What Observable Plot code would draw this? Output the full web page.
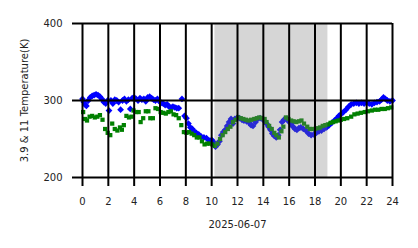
<!DOCTYPE html>
<html>
<head>
<meta charset="utf-8">
<script src="https://cdn.jsdelivr.net/npm/d3@7"></script>
<script src="https://cdn.jsdelivr.net/npm/@observablehq/plot@0.6"></script>
<style>
  html, body { margin: 0; padding: 0; background: #fff; }
  #chart svg { display: block; }
</style>
</head>
<body>
<div id="chart"></div>
<script>
// 3.9 µm channel (blue diamonds)
const blueHours = [0.00,0.10,0.20,0.30,0.45,0.60,0.75,0.90,1.05,1.20,1.35,1.50,1.65,1.80,1.95,2.05,2.20,2.35,2.50,2.65,2.80,2.95,3.10,3.25,3.40,3.55,3.70,3.85,4.00,4.15,4.30,4.45,4.60,4.75,4.90,5.05,5.20,5.35,5.50,5.65,5.80,5.95,6.10,6.25,6.40,6.55,6.70,6.85,7.00,7.15,7.30,7.45,7.70,7.90,8.05,8.20,8.35,8.50,8.65,8.80,9.00,9.20,9.40,9.60,9.80,10.00,10.15,10.30,10.45,10.60,10.75,10.90,11.05,11.20,11.35,11.50,11.65,11.80,12.00,12.15,12.35,12.50,12.70,12.90,13.05,13.20,13.40,13.55,13.75,13.95,14.10,14.25,14.40,14.55,14.70,14.85,15.00,15.15,15.30,15.45,15.60,15.80,15.95,16.15,16.30,16.45,16.60,16.75,16.90,17.10,17.30,17.50,17.70,17.90,18.10,18.30,18.50,18.70,18.90,19.10,19.30,19.50,19.70,19.85,20.00,20.20,20.40,20.60,20.80,21.00,21.20,21.40,21.60,21.80,22.00,22.20,22.40,22.60,22.80,23.00,23.15,23.30,23.45,23.60,23.80,24.00];
const blueTemps = [302,298,295,293,300,304,306,307,308,307,305,302,298,296,300,287,300,296,301,300,298,288,300,302,299,301,289,303,304,302,300,303,301,302,299,304,305,303,301,300,302,299,297,296,294,295,292,291,292,291,290,290,302,280,277,270,265,263,260,258,256,253,252,251,248,249,246,240,243,247,255,259,262,267,272,276,270,276,278,277,275,274,273,271,268,267,272,276,277,276,273,270,266,262,257,254,252,255,262,272,275,276,273,270,266,263,262,264,265,263,261,257,255,256,258,260,261,263,265,268,271,274,277,280,282,285,288,292,295,296,297,296,297,296,297,296,295,297,298,299,301,304,302,300,299,300];

// 11 µm channel (green squares)
const greenHours = [0.05,0.20,0.35,0.55,0.75,0.95,1.15,1.35,1.55,1.75,1.95,2.15,2.30,2.50,2.70,2.90,3.05,3.20,3.40,3.60,3.80,3.95,4.15,4.35,4.50,4.70,4.90,5.10,5.25,5.45,5.65,5.85,6.05,6.25,6.45,6.65,6.85,7.05,7.25,7.45,7.65,7.85,8.05,8.25,8.45,8.65,8.85,9.05,9.25,9.45,9.65,9.85,10.05,10.25,10.45,10.65,10.85,11.05,11.25,11.45,11.65,11.85,12.05,12.25,12.45,12.65,12.85,13.05,13.30,13.50,13.70,13.90,14.10,14.25,14.45,14.65,14.85,15.00,15.20,15.40,15.55,15.75,15.95,16.15,16.35,16.55,16.75,16.95,17.15,17.40,17.60,17.80,18.00,18.20,18.40,18.60,18.80,19.00,19.20,19.40,19.60,19.80,20.00,20.25,20.50,20.80,21.05,21.30,21.55,21.85,22.10,22.40,22.65,22.90,23.15,23.40,23.65,23.90];
const greenTemps = [285,276,274,279,280,278,279,281,275,263,258,255,270,263,261,265,262,268,280,278,279,287,285,285,272,277,286,286,277,277,290,289,285,284,283,285,286,282,281,277,268,259,258,259,257,255,252,252,247,243,244,244,243,241,244,250,255,259,263,266,272,275,278,277,276,275,274,275,276,277,278,277,276,272,267,263,258,255,252,260,266,278,276,274,273,272,273,274,270,266,263,263,263,264,265,267,268,269,271,272,273,274,275,276,277,279,282,283,284,285,286,287,288,288,289,289,290,291];

// shaded interval (hours)
const shadeStart = [10.25];
const shadeEnd = [19.0];

// ticks and labels
const xTicks = [0,2,4,6,8,10,12,14,16,18,20,22,24];
const yTicks = [200,300,400];
const xLabel = "2025-06-07";
const yLabel = "3.9 & 11 Temperature(K)";

const blue = blueHours.map((h, i) => ({h, t: blueTemps[i]}));
const green = greenHours.map((h, i) => ({h, t: greenTemps[i]}));
const shade = shadeStart.map((s, i) => ({s, e: shadeEnd[i]}));

const rotSquare = {
  draw(ctx, size) {
    const r = Math.sqrt(size / 2);
    ctx.moveTo(0, -r); ctx.lineTo(r, 0); ctx.lineTo(0, r); ctx.lineTo(-r, 0); ctx.closePath();
  }
};

const chart = Plot.plot({
  width: 418,
  height: 248,
  marginLeft: 82,
  marginRight: 26,
  marginTop: 23,
  marginBottom: 71,
  style: {fontFamily: "DejaVu Sans", fontSize: "10px", color: "#222", background: "#fff"},
  x: {domain: [0, 24]},
  y: {domain: [200, 400]},
  marks: [
    Plot.dot(blue, {x: "h", y: "t", symbol: rotSquare, r: 2.7, fill: "#0000ff", stroke: "none"}),
    Plot.dot(green, {x: "h", y: "t", symbol: "square", r: 2.4, fill: "#008000", stroke: "none"}),
    Plot.rect(shade, {x1: "s", x2: "e", y1: 200, y2: 400, fill: "#808080", fillOpacity: 0.32}),
    Plot.ruleX(xTicks, {y1: 200, y2: 400, stroke: "#000", strokeWidth: 2}),
    Plot.ruleY(yTicks, {stroke: "#000", strokeWidth: 2}),
    Plot.axisX({ticks: xTicks, tickSize: 9, tickPadding: 11, strokeWidth: 2, stroke: "#000",
      label: xLabel, labelAnchor: "center", labelArrow: "none", labelOffset: 50, fill: "#222"}),
    Plot.axisY({ticks: yTicks, tickSize: 10, tickPadding: 10, strokeWidth: 2, stroke: "#000",
      label: yLabel, labelAnchor: "center", labelArrow: "none", labelOffset: 62, fill: "#222"})
  ]
});
document.getElementById("chart").appendChild(chart);
</script>
</body>
</html>
